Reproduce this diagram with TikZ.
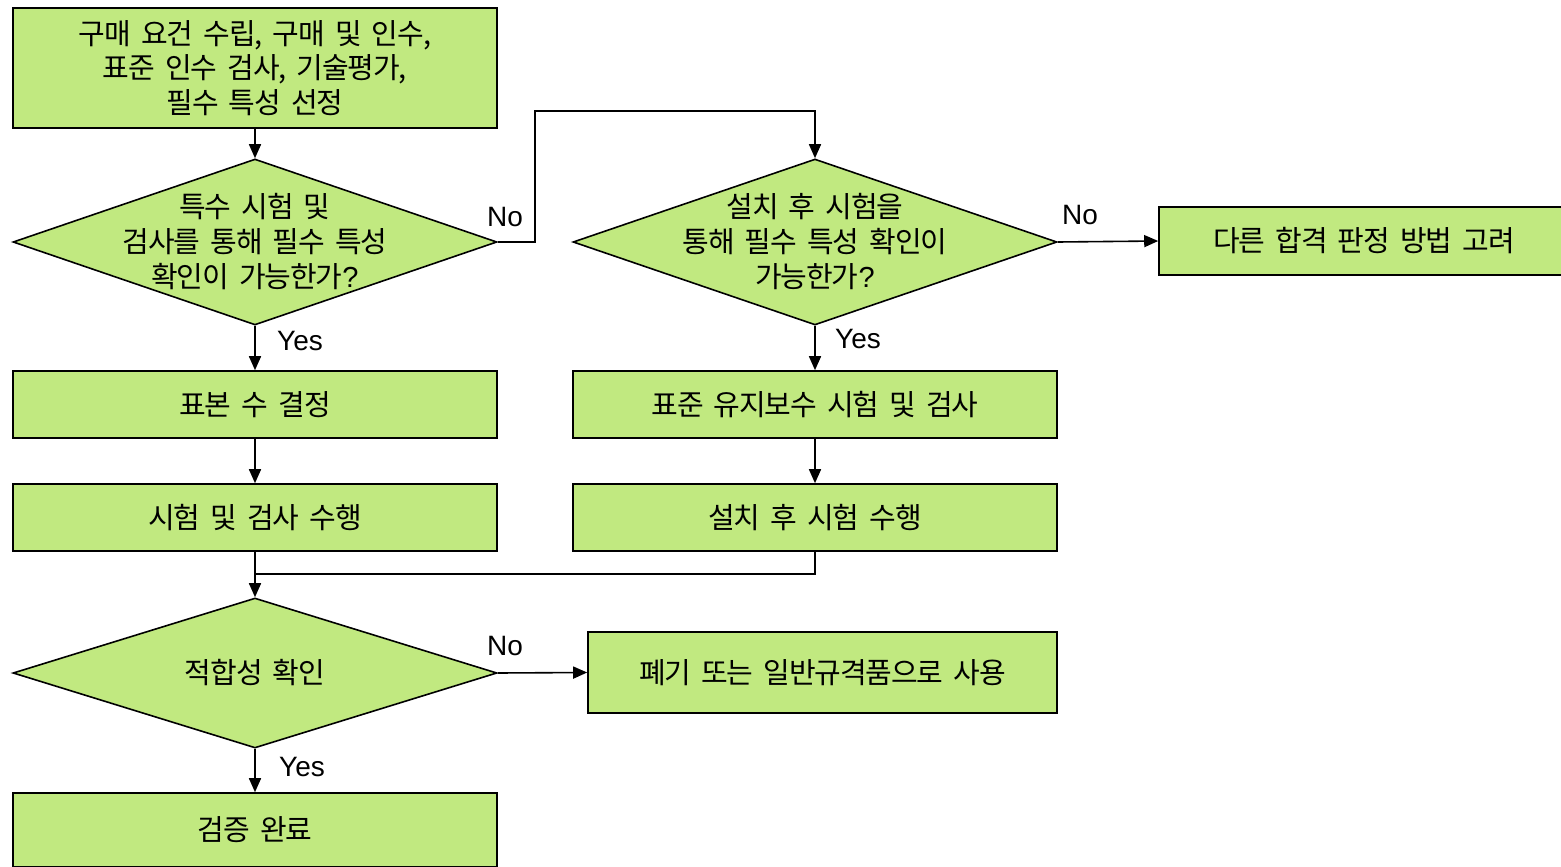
\documentclass[tikz,border=0pt]{standalone}
\usepackage{fontspec}
\setmainfont{Liberation Sans}
\newfontfamily\kr{Noto Sans CJK KR}[WordSpace=1.9,LetterSpace=-4]
\usetikzlibrary{shapes.geometric,arrows.meta}
\definecolor{boxgreen}{RGB}{193,233,128}
\newcommand{\qm}{{\normalfont ?}}
\begin{document}
\begin{tikzpicture}[x=1pt,y=-1pt,
  box/.style={draw=black,line width=1.6pt,fill=boxgreen,inner sep=0pt,font=\kr\fontsize{29}{34.5}\selectfont,align=center},
  dia/.style={diamond,draw=black,line width=1.6pt,fill=boxgreen,inner sep=0pt,minimum width=484pt,minimum height=166pt},
  dtext/.style={font=\kr\fontsize{29}{35}\selectfont,align=center,inner sep=0pt},
  lbl/.style={font=\fontsize{28}{32}\selectfont,inner sep=0pt},
  arr/.style={line width=1.6pt,-{Triangle[length=14pt,width=12pt]}},
  ln/.style={line width=1.6pt}]
\clip (0,0) rectangle (1561,867);
\fill[white] (0,0) rectangle (1561,867);

\node[box,minimum width=484pt,minimum height=120pt] (a) at (255,68) {구매 요건 수립, 구매 및 인수,\\표준 인수 검사, 기술평가,\\필수 특성 선정};
\node[dia] (d1) at (255,242) {};
\node[dtext] (t1) at (255,242) {특수 시험 및\\검사를 통해 필수 특성\\확인이 가능한가\qm};
\node[box,minimum width=484pt,minimum height=67pt] (b) at (255,404.5) {표본 수 결정};
\node[box,minimum width=484pt,minimum height=67pt] (c) at (255,517.5) {시험 및 검사 수행};
\node[dia,minimum height=150pt] (d3) at (255,673) {};
\node[dtext] (t3) at (255,673) {적합성 확인};
\node[box,minimum width=484pt,minimum height=74pt] (g) at (255,830) {검증 완료};

\node[dia] (d2) at (815,242) {};
\node[dtext] (t2) at (815,242) {설치 후 시험을\\통해 필수 특성 확인이\\가능한가\qm};
\node[box,minimum width=484pt,minimum height=67pt] (e) at (815,404.5) {표준 유지보수 시험 및 검사};
\node[box,minimum width=484pt,minimum height=67pt] (f) at (815,517.5) {설치 후 시험 수행};
\node[box,minimum width=469pt,minimum height=81pt] (h) at (822.5,672.5) {폐기 또는 일반규격품으로 사용};
\node[box,minimum width=410pt,minimum height=68pt] (i) at (1364,241) {다른 합격 판정 방법 고려};

\coordinate (k1) at (535,111);
\coordinate (m) at (255,574);

\draw[arr] (a.south) -- (d1.north);
\draw[arr] (d1.south) -- (b.north);
\draw[arr] (b.south) -- (c.north);
\draw[arr] (c.south) -- (d3.north);
\draw[ln] (f.south) |- (m);
\draw[arr] (d3.south) -- (g.north);
\draw[arr] (d3.east) -- (h.west);
\draw[arr] (d1.east) -| (k1) -| (d2.north);
\draw[arr] (d2.south) -- (e.north);
\draw[arr] (e.south) -- (f.north);
\draw[arr] (d2.east) -- (i.west);

\node[lbl] (n1) at (505,217) {No};
\node[lbl] (y1) at (300,341) {Yes};
\node[lbl] (n2) at (1080,215) {No};
\node[lbl] (y2) at (858,339) {Yes};
\node[lbl] (n3) at (505,646) {No};
\node[lbl] (y3) at (302,767) {Yes};
\end{tikzpicture}
\end{document}
